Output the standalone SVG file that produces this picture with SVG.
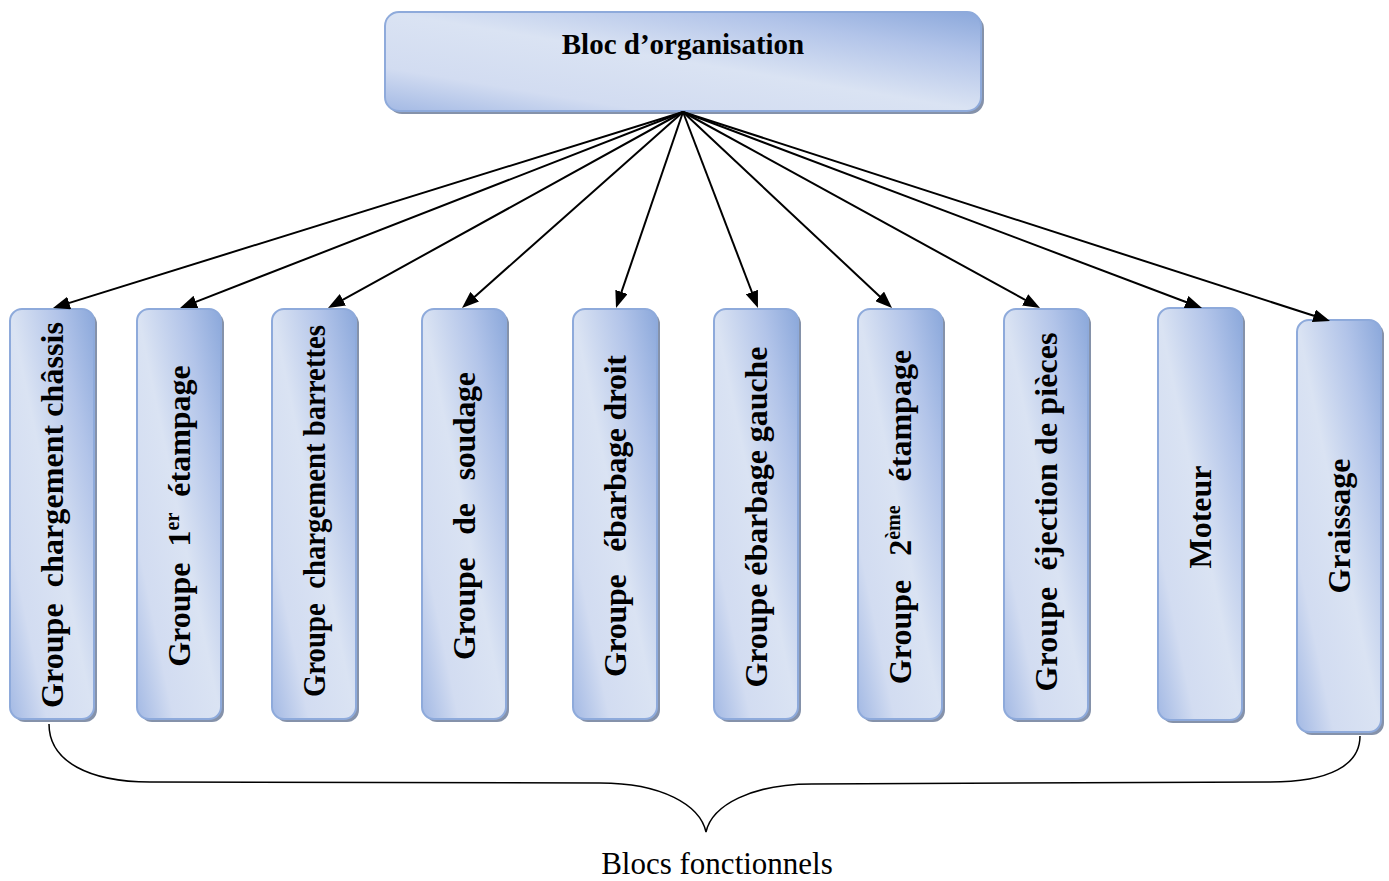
<svg xmlns="http://www.w3.org/2000/svg" width="1389" height="881" viewBox="0 0 1389 881">
  <defs>
    <linearGradient id="boxFill" x1="0" y1="1" x2="1" y2="0">
      <stop offset="0" stop-color="#a3b9e4"/>
      <stop offset="0.22" stop-color="#d2dcf1"/>
      <stop offset="0.5" stop-color="#dae3f3"/>
      <stop offset="0.78" stop-color="#b2c4e9"/>
      <stop offset="1" stop-color="#8ba8db"/>
    </linearGradient>
    <marker id="arrowHead" markerUnits="userSpaceOnUse" markerWidth="17" markerHeight="13" refX="9" refY="6.5" orient="auto">
      <path d="M0,0 L17,6.5 L0,13 z" fill="#000"/>
    </marker>
  </defs>
  <style>
    .shadow { fill: #8592aa; }
    .box { fill: url(#boxFill); stroke: #8eaadb; stroke-width: 2; }
    .label { font-family: "Liberation Serif", "Times New Roman", serif; font-weight: bold; font-size: 32px; fill: #000; text-anchor: middle; white-space: pre; }
    .title { font-family: "Liberation Serif", "Times New Roman", serif; font-weight: bold; font-size: 29px; fill: #000; text-anchor: middle; }
    .caption { font-family: "Liberation Serif", "Times New Roman", serif; font-size: 31px; fill: #000; text-anchor: middle; }
    .sup { font-size: 20px; }
    .link { stroke: #000; stroke-width: 2; fill: none; marker-end: url(#arrowHead); }
    .brace { stroke: #000; stroke-width: 1.5; fill: none; }
  </style>

  <rect width="1389" height="881" fill="#fff"/>

  <!-- organisation block -->
  <g id="bloc-organisation">
    <rect class="shadow" x="388" y="15" width="596" height="99" rx="14"/>
    <rect class="box" x="385" y="12" width="596" height="99" rx="14"/>
    <text class="title" x="683" y="54">Bloc d’organisation</text>
  </g>

  <!-- functional blocks -->
  <g id="groupe-chargement-chassis">
    <rect class="shadow" x="13" y="312" width="84" height="410" rx="12"/>
    <rect class="box" x="10" y="309" width="84" height="410" rx="12"/>
    <text class="label" transform="translate(52,515) rotate(-90)" y="11" textLength="386" lengthAdjust="spacing">Groupe  chargement châssis</text>
  </g>
  <g id="groupe-1er-etampage">
    <rect class="shadow" x="140" y="312" width="84" height="410" rx="12"/>
    <rect class="box" x="137" y="309" width="84" height="410" rx="12"/>
    <text class="label" transform="translate(179,516) rotate(-90)" y="11">Groupe  1<tspan class="sup" baseline-shift="super">er</tspan>  étampage</text>
  </g>
  <g id="groupe-chargement-barrettes">
    <rect class="shadow" x="275" y="312" width="84" height="410" rx="12"/>
    <rect class="box" x="272" y="309" width="84" height="410" rx="12"/>
    <text class="label" transform="translate(314,511) rotate(-90)" y="11" textLength="372" lengthAdjust="spacingAndGlyphs">Groupe  chargement barrettes</text>
  </g>
  <g id="groupe-soudage">
    <rect class="shadow" x="425" y="312" width="84" height="410" rx="12"/>
    <rect class="box" x="422" y="309" width="84" height="410" rx="12"/>
    <text class="label" transform="translate(464,516) rotate(-90)" y="11" textLength="288" lengthAdjust="spacing">Groupe   de   soudage</text>
  </g>
  <g id="groupe-ebarbage-droit">
    <rect class="shadow" x="576" y="312" width="84" height="410" rx="12"/>
    <rect class="box" x="573" y="309" width="84" height="410" rx="12"/>
    <text class="label" transform="translate(615,516) rotate(-90)" y="11" textLength="322" lengthAdjust="spacing">Groupe   ébarbage droit</text>
  </g>
  <g id="groupe-ebarbage-gauche">
    <rect class="shadow" x="717" y="312" width="84" height="410" rx="12"/>
    <rect class="box" x="714" y="309" width="84" height="410" rx="12"/>
    <text class="label" transform="translate(756,517) rotate(-90)" y="11" textLength="341" lengthAdjust="spacing">Groupe ébarbage gauche</text>
  </g>
  <g id="groupe-2eme-etampage">
    <rect class="shadow" x="861" y="312" width="84" height="410" rx="12"/>
    <rect class="box" x="858" y="309" width="84" height="410" rx="12"/>
    <text class="label" transform="translate(900,517) rotate(-90)" y="11">Groupe   2<tspan class="sup" baseline-shift="super">ème</tspan>   étampage</text>
  </g>
  <g id="groupe-ejection-pieces">
    <rect class="shadow" x="1007" y="312" width="84" height="410" rx="12"/>
    <rect class="box" x="1004" y="309" width="84" height="410" rx="12"/>
    <text class="label" transform="translate(1046,512) rotate(-90)" y="11" textLength="359" lengthAdjust="spacing">Groupe  éjection de pièces</text>
  </g>
  <g id="moteur">
    <rect class="shadow" x="1161" y="311" width="84" height="412" rx="12"/>
    <rect class="box" x="1158" y="308" width="84" height="412" rx="12"/>
    <text class="label" transform="translate(1200,517) rotate(-90)" y="11">Moteur</text>
  </g>
  <g id="graissage">
    <rect class="shadow" x="1300" y="323" width="84" height="412" rx="12"/>
    <rect class="box" x="1297" y="320" width="84" height="412" rx="12"/>
    <text class="label" transform="translate(1339,526) rotate(-90)" y="11">Graissage</text>
  </g>

  <!-- connectors from the organisation block -->
  <g id="connectors">
    <line class="link" x1="683" y1="112" x2="60.6" y2="305.6"/>
    <line class="link" x1="683" y1="112" x2="187.5" y2="305.1"/>
    <line class="link" x1="683" y1="112" x2="335.0" y2="304.1"/>
    <line class="link" x1="683" y1="112" x2="468.0" y2="302.7"/>
    <line class="link" x1="683" y1="112" x2="618.6" y2="300.4"/>
    <line class="link" x1="683" y1="112" x2="755.1" y2="300.5"/>
    <line class="link" x1="683" y1="112" x2="886.2" y2="302.5"/>
    <line class="link" x1="683" y1="112" x2="1033.0" y2="304.2"/>
    <line class="link" x1="683" y1="112" x2="1194.5" y2="305.2"/>
    <line class="link" x1="683" y1="112" x2="1322.4" y2="318.5"/>
  </g>

  <!-- brace grouping the functional blocks -->
  <g id="accolade">
    <path class="brace" d="M49,724 C49,762 90,782 150,782 L600,783 C662,783 700,805 706,832 C712,805 752,784 812,784 L1270,782 C1330,782 1360,765 1360,736"/>
    <text class="caption" x="717" y="874">Blocs fonctionnels</text>
  </g>
</svg>
